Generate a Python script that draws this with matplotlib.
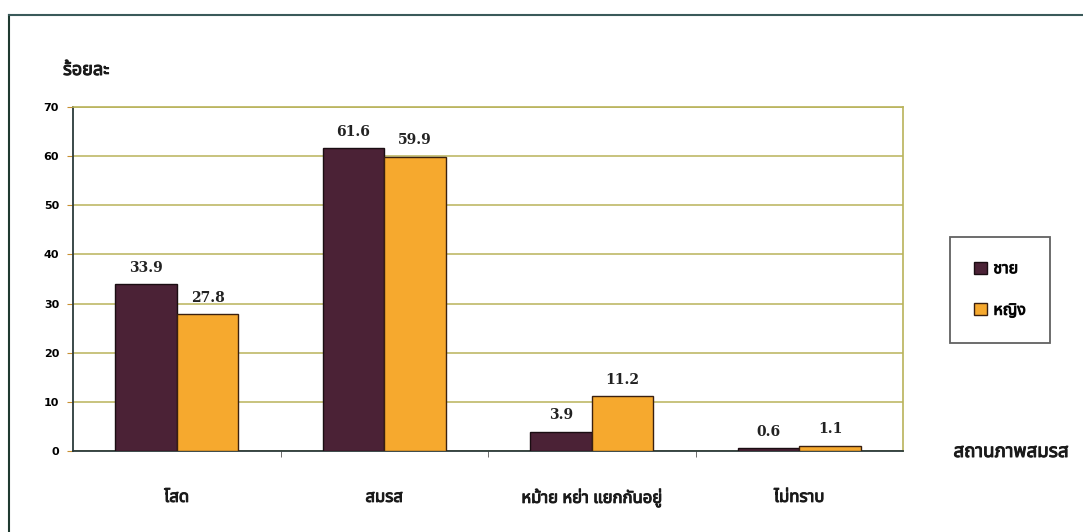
import numpy as np
import matplotlib
matplotlib.use("Agg")
from matplotlib import pyplot as plt
from matplotlib.lines import Line2D
from matplotlib import patheffects as pe

plt.rcParams['font.family'] = ['Noto Sans Thai', 'Noto Sans', 'DejaVu Sans']

categories = ['โสด', 'สมรส', 'หม้าย หย่า แยกกันอยู่', 'ไม่ทราบ']
male = [33.9, 61.6, 3.9, 0.6]
female = [27.8, 59.9, 11.2, 1.1]
series_names = ['ชาย', 'หญิง']
yticks = [0, 10, 20, 30, 40, 50, 60, 70]

male_color = '#4b2236'
female_color = '#f6a92e'
grid_color = '#b9b35a'

# fake heavier weight for Thai text
heavy = [pe.withStroke(linewidth=0.7, foreground='#1a1a1a')]

W, H = 1083, 532
fig = plt.figure(figsize=(W / 100, H / 100), dpi=100)

# axes box in pixels: x 73..903, y 107..451
ax = fig.add_axes([73 / W, 1 - 451 / H, (903 - 73) / W, (451 - 107) / H])

x = np.arange(len(categories))
bw = 0.296
b1 = ax.bar(x - bw / 2, male, bw, color=male_color, edgecolor='#1a0d12', linewidth=1.0, zorder=3)
b2 = ax.bar(x + bw / 2, female, bw, color=female_color, edgecolor='#3a2010', linewidth=1.0, zorder=3)

for bars, vals in ((b1, male), (b2, female)):
    for r, v in zip(bars, vals):
        ax.text(r.get_x() + r.get_width() / 2, v + 1.9, f'{v:.1f}', ha='center', va='bottom',
                fontsize=10, fontweight='bold', family='DejaVu Serif', color='#222222')

ax.set_xlim(-0.5, len(categories) - 0.5)
ax.set_ylim(0, 70)
ax.set_yticks(yticks)
ax.set_yticklabels([str(t) for t in yticks], fontsize=8, fontweight='bold', family='DejaVu Sans')
ax.yaxis.grid(True, color=grid_color, linewidth=1.1, zorder=0)
ax.set_axisbelow(True)

ax.set_xticks(x)
ax.set_xticklabels(categories, fontsize=12, color='#1a1a1a')
for t in ax.get_xticklabels():
    t.set_path_effects(heavy)
ax.tick_params(axis='x', length=0, pad=28)
ax.set_xticks(np.arange(0.5, len(categories) - 0.5), minor=True)
ax.tick_params(axis='x', which='minor', length=4, direction='out', color='#555555')
ax.tick_params(axis='y', length=4, direction='out', color='#c89030', pad=6)

for s in ('left', 'bottom'):
    ax.spines[s].set_color('#2b3a3a')
    ax.spines[s].set_linewidth(1.3)
for s in ('top', 'right'):
    ax.spines[s].set_color(grid_color)
    ax.spines[s].set_linewidth(1.2)

fig.text(63 / W, 1 - 70 / H, 'ร้อยละ', fontsize=13, va='center', ha='left',
         color='#1a1a1a', path_effects=heavy)
fig.text(1011 / W, 1 - 452 / H, 'สถานภาพสมรส', fontsize=13.5, va='center', ha='center',
         color='#1a1a1a', path_effects=heavy)

leg = fig.legend([b1, b2], series_names, loc='center', bbox_to_anchor=(1000 / W, 1 - 290 / H),
                 frameon=True, fancybox=False, edgecolor='#3a3a3a', fontsize=11.5,
                 handlelength=0.8, handleheight=0.8, labelspacing=1.6, borderpad=1.5,
                 handletextpad=0.4, borderaxespad=0)
leg.get_frame().set_linewidth(1.3)
for t in leg.get_texts():
    t.set_path_effects(heavy)

# outer frame
fig.add_artist(Line2D([9 / W, 9 / W], [0, 1 - 15 / H], color='#1f3a30', linewidth=1.5))
fig.add_artist(Line2D([9 / W, 1], [1 - 15 / H, 1 - 15 / H], color='#3a5a5a', linewidth=1.5))

fig.savefig('out.png', dpi=100)
